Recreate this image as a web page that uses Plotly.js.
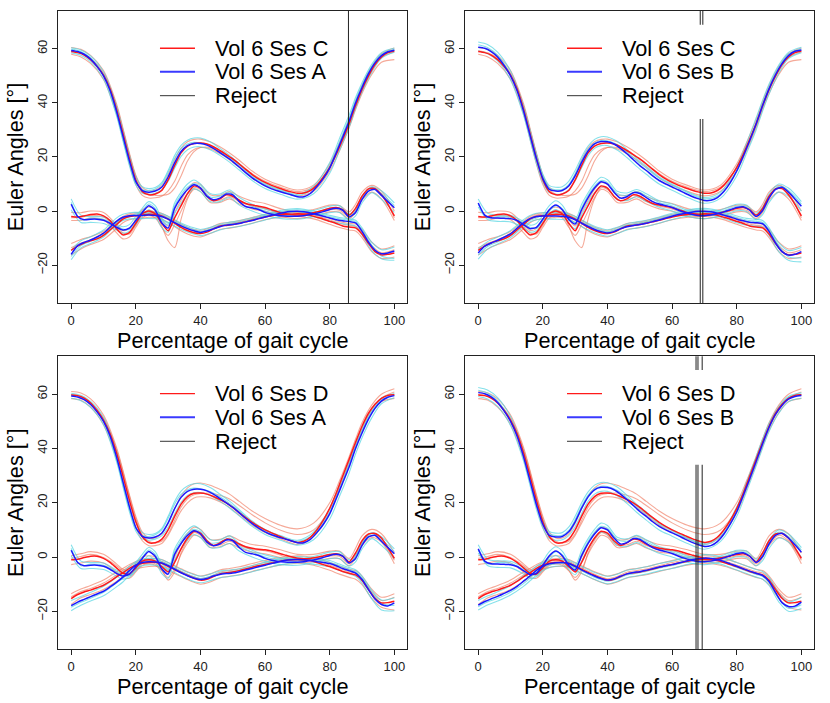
<!DOCTYPE html>
<html><head><meta charset="utf-8">
<script src="https://cdn.plot.ly/plotly-3.0.1.min.js"></script>
<style>html,body{margin:0;padding:0;background:#fff}#chart{width:830px;height:703px}</style>
</head><body><div id="chart"></div>
<script>
// ---------- DATA ----------
const X = [0,2,4,6,8,10,12,14,16,18,20,22,24,26,28,30,32,34,36,38,40,42,44,46,48,50,52,54,56,58,60,62,64,66,68,70,72,74,76,78,80,82,84,86,88,90,92,94,96,98,100];
const XT = [0,3,6,10,14,16,18,20,22,24,26,28,30,32,34,36,38,40,43,46,49,52,56,60,65,70,75,80,83,86,88,90,93,96,100];

// Session A (blue)
const sesA_flex = [59.4,59.0,58.0,56.2,53.5,50.0,44.7,37.0,27.8,18.6,10.9,7.6,7.0,7.4,8.8,12.6,17.8,22.0,24.2,25.0,25.0,24.4,23.2,21.6,20.0,18.3,16.3,14.2,12.3,10.7,9.3,8.2,7.4,6.7,6.0,5.3,5.3,6.5,9.0,12.0,15.9,21.5,27.3,33.2,40.0,45.7,50.8,54.8,57.5,58.9,59.5];
const sesA_abd = [2.5,-2.0,-3.2,-3.0,-3.0,-3.4,-4.5,-6.0,-7.0,-6.3,-3.5,-0.5,2.0,0.3,-4.3,-6.3,1.0,5.0,8.0,9.7,8.5,5.5,4.2,4.8,6.3,6.0,3.5,1.7,1.2,0.6,-0.5,-1.2,-1.6,-1.8,-1.9,-1.9,-1.7,-1.3,-0.8,-0.2,0.6,1.0,0.3,-2.2,-0.5,4.3,7.4,8.0,5.8,3.5,1.2];
const sesA_rot = [-16.0,-12.8,-11.6,-10.7,-9.6,-8.2,-6.0,-3.8,-2.3,-1.7,-1.6,-1.6,-1.5,-1.6,-2.0,-3.0,-4.3,-5.5,-6.5,-7.3,-7.9,-7.4,-6.6,-5.8,-5.2,-5.0,-4.6,-4.0,-3.5,-2.8,-2.2,-1.6,-1.0,-0.5,-0.2,-0.1,-0.3,-0.7,-1.3,-1.9,-2.6,-3.2,-3.6,-3.9,-4.4,-7.5,-11.5,-14.5,-15.8,-15.5,-14.8];
// Session A rotation as drawn against Session D (bottom-left panel)
const sesA_vsD_rot = [-17.9,-16.6,-15.6,-14.6,-13.6,-12.6,-11.0,-9.3,-7.4,-5.0,-3.0,-2.0,-1.7,-1.8,-2.2,-3.2,-4.5,-5.8,-6.9,-7.8,-8.3,-7.9,-7.0,-6.4,-6.1,-5.9,-5.4,-4.8,-4.2,-3.6,-3.0,-2.4,-1.8,-1.3,-1.0,-0.9,-1.0,-1.3,-1.7,-2.0,-2.4,-3.2,-4.2,-5.0,-5.9,-8.3,-12.0,-15.5,-17.5,-18.0,-16.9];
const sesA_flex_trials = [
 [60.4,59.6,57.4,51.5,39.0,30.0,20.8,12.8,9.0,8.3,8.7,10.5,15.0,20.5,24.3,26.2,27.0,27.0,25.6,23.2,20.6,17.5,13.3,10.2,7.8,6.2,9.2,18.0,26.8,35.5,42.0,47.5,54.3,58.6,60.3],
 [58.5,57.6,55.2,48.8,35.3,26.0,16.8,9.6,6.6,6.2,6.6,7.8,11.0,15.8,20.2,22.7,23.7,23.8,22.7,20.6,18.1,15.2,11.3,8.3,6.1,4.4,6.4,14.0,22.3,31.0,38.0,44.0,51.3,56.5,58.7],
 [59.9,59.0,56.6,50.3,36.2,26.7,17.8,10.4,7.9,7.6,8.2,10.0,14.3,19.5,23.1,24.8,25.4,25.2,24.2,22.2,19.8,17.0,12.8,9.8,7.5,5.8,8.3,16.8,25.5,34.3,41.0,46.6,53.5,58.0,59.8]];
const sesA_abd_trials = [
 [4.5,-1.5,-2.0,-2.2,-4.8,-5.8,-5.0,-2.0,1.0,3.5,2.0,-2.5,-4.5,3.0,7.0,10.0,11.5,10.0,6.5,6.3,7.8,5.0,2.5,0.8,-0.5,-0.8,0.2,1.8,2.0,-1.0,0.8,5.5,9.0,7.5,3.0],
 [0.5,-4.2,-4.2,-4.6,-7.0,-8.2,-7.5,-5.0,-2.0,0.5,-1.5,-6.0,-7.8,-1.0,3.0,6.3,8.3,7.2,3.5,3.5,5.0,2.2,0.0,-1.6,-2.8,-3.0,-2.1,-0.6,-0.5,-3.3,-1.8,3.0,6.8,4.3,-0.5],
 [3.2,-3.2,-2.6,-3.0,-5.4,-6.6,-6.8,-4.2,-0.2,2.6,1.0,-3.5,-5.0,2.0,6.0,8.8,10.2,9.3,5.2,5.5,7.0,4.0,1.8,0.0,-1.2,-1.5,-0.6,1.0,1.2,-1.8,0.2,5.2,8.6,6.5,2.0]];
const sesA_rot_trials = [
 [-14.5,-11.0,-9.5,-7.0,-2.6,-1.2,-0.6,-0.5,-0.5,-0.4,-0.5,-0.9,-1.9,-3.2,-4.4,-5.4,-6.2,-6.8,-6.0,-4.8,-4.1,-3.6,-2.5,-1.2,0.3,0.9,0.0,-1.6,-2.4,-2.9,-3.4,-6.2,-11.5,-14.3,-13.3],
 [-18.0,-13.6,-12.0,-9.6,-5.0,-3.5,-2.9,-2.8,-2.8,-2.7,-2.8,-3.2,-4.2,-5.5,-6.7,-7.7,-8.5,-9.1,-8.2,-7.0,-6.2,-5.7,-4.6,-3.3,-1.8,-1.2,-2.1,-3.7,-4.5,-5.0,-5.6,-8.8,-14.6,-17.6,-18.2],
 [-16.8,-12.8,-11.2,-8.8,-4.4,-2.8,-2.2,-1.0,-1.0,-0.9,-1.1,-1.5,-2.5,-3.8,-5.0,-6.0,-6.8,-7.5,-6.6,-5.3,-4.6,-4.1,-3.0,-1.7,-0.2,0.5,-0.5,-2.1,-2.9,-3.4,-4.0,-7.0,-12.6,-16.6,-17.5]];
const sesA_vsD_rot_trials = [
 [-16.0,-14.5,-13.0,-10.8,-7.5,-5.6,-3.4,-1.7,-0.8,-0.5,-0.6,-1.0,-2.0,-3.3,-4.6,-5.6,-6.5,-7.1,-6.3,-5.2,-4.8,-4.3,-3.1,-1.9,-0.5,0.2,-0.4,-1.3,-2.6,-3.9,-4.7,-7.0,-12.3,-15.8,-15.0],
 [-19.8,-17.8,-16.2,-14.3,-11.0,-9.2,-6.7,-4.4,-3.2,-2.9,-3.0,-3.4,-4.4,-5.7,-7.0,-8.1,-9.0,-9.5,-8.7,-7.6,-7.2,-6.6,-5.4,-4.2,-2.8,-2.1,-2.7,-3.6,-4.9,-6.2,-7.1,-9.6,-15.4,-19.5,-19.8],
 [-18.5,-16.7,-15.2,-13.0,-9.6,-7.8,-5.5,-2.5,-1.4,-1.1,-1.2,-1.7,-2.7,-4.0,-5.3,-6.4,-7.3,-7.9,-7.1,-5.9,-5.5,-4.9,-3.7,-2.5,-1.1,-0.4,-1.0,-1.9,-3.2,-4.5,-5.4,-7.8,-13.2,-17.0,-17.8]];

// Session B (blue) as drawn against Session C (top-right panel)
const sesB_flex = [60.6,60.2,59.0,57.0,53.9,50.0,44.6,37.1,28.2,19.3,12.0,8.0,7.4,7.6,9.3,13.0,18.0,22.2,24.8,25.7,25.6,24.8,23.2,21.2,19.0,16.8,15.0,13.0,11.3,10.0,8.9,7.8,6.6,5.5,4.6,3.9,4.0,5.0,7.2,10.5,14.8,20.2,26.0,32.2,39.0,45.2,50.4,54.5,57.5,59.1,59.6];
// Session B flexion as drawn against Session D (bottom-right panel)
const sesB_vsD_flex = [60.6,60.2,59.0,57.0,53.9,50.0,44.6,37.1,28.2,19.3,12.0,8.0,7.4,7.6,9.3,13.0,18.0,22.2,24.8,25.7,25.6,24.8,23.2,21.2,19.0,16.8,15.0,13.0,11.3,10.0,8.9,7.8,6.6,5.5,4.6,3.9,4.2,5.7,8.4,12.2,16.7,22.6,28.8,35.2,41.8,47.8,52.6,55.9,58.2,59.2,59.5];
const sesB_abd = [3.0,-1.5,-2.5,-2.6,-2.7,-2.8,-3.5,-5.0,-6.5,-6.0,-3.0,0.5,2.2,0.5,-3.0,-4.8,0.5,5.0,8.5,10.8,10.0,7.0,4.8,5.3,6.8,6.5,5.0,3.5,2.6,2.0,1.3,0.3,-0.5,-1.2,-1.6,-1.7,-1.5,-1.0,-0.3,0.5,1.3,1.6,0.3,-2.0,0.2,4.8,8.0,8.8,7.0,4.5,1.8];
const sesB_rot = [-15.5,-13.0,-11.8,-10.8,-9.7,-8.4,-6.4,-4.4,-2.8,-2.0,-1.8,-1.8,-1.8,-1.9,-2.3,-3.2,-4.5,-5.7,-6.8,-7.6,-8.1,-7.6,-6.6,-5.8,-5.3,-5.0,-4.5,-3.9,-3.3,-2.6,-1.9,-1.3,-0.8,-0.4,-0.1,-0.1,-0.3,-0.8,-1.5,-2.2,-3.0,-3.6,-4.1,-4.3,-4.7,-7.5,-11.8,-15.0,-16.3,-16.0,-15.0];
// Session B rotation as drawn against Session D (bottom-right panel)
const sesB_vsD_rot = [-17.7,-16.4,-15.4,-14.5,-13.4,-12.3,-10.8,-8.9,-7.0,-4.9,-3.4,-2.5,-2.1,-2.0,-2.4,-3.4,-4.7,-5.9,-7.0,-7.9,-8.5,-8.1,-7.1,-6.2,-5.7,-5.4,-4.9,-4.3,-3.7,-3.2,-2.8,-2.2,-1.6,-1.0,-0.6,-0.4,-0.5,-0.9,-1.6,-2.5,-3.4,-4.3,-5.2,-6.0,-6.8,-9.0,-13.0,-16.8,-18.2,-18.1,-16.6];
const sesB_flex_trials = [
 [62.5,61.5,58.8,51.8,39.0,30.2,21.2,13.6,9.4,8.8,9.0,11.0,15.0,20.0,24.0,26.5,27.5,27.4,25.8,22.8,19.5,16.6,12.6,10.0,7.0,5.0,7.0,16.5,25.0,34.5,41.0,47.0,54.0,58.7,60.6],
 [59.2,58.2,55.5,48.5,35.5,26.5,17.6,10.6,6.8,6.2,6.4,7.9,11.2,16.0,20.5,23.2,24.2,24.2,22.6,19.8,16.5,13.6,10.0,7.7,4.9,2.9,4.8,13.0,21.3,30.0,37.0,43.3,51.0,56.4,58.6],
 [61.5,60.4,57.6,50.4,37.8,29.0,20.2,12.8,8.6,7.9,8.0,9.8,13.8,18.8,22.8,25.2,26.1,26.0,24.6,21.9,18.7,15.9,12.2,9.6,6.7,4.5,6.2,15.0,23.5,32.8,39.6,45.8,53.2,58.0,60.0]];
const sesB_vsD_flex_trials = [
 [62.5,61.5,58.8,51.8,39.0,30.2,21.2,13.6,9.4,8.8,9.0,11.0,15.0,20.0,24.0,26.5,27.5,27.4,25.8,22.8,19.5,16.6,12.6,10.0,7.0,5.0,8.3,18.5,27.5,37.0,43.5,49.3,55.5,59.2,60.5],
 [59.2,58.2,55.5,48.5,35.5,26.5,17.6,10.6,6.8,6.2,6.4,7.9,11.2,16.0,20.5,23.2,24.2,24.2,22.6,19.8,16.5,13.6,10.0,7.7,4.9,2.9,5.8,15.0,24.0,33.5,40.2,46.3,53.0,57.2,58.5],
 [61.5,60.4,57.6,50.4,37.8,29.0,20.2,12.8,8.6,7.9,8.0,9.8,13.8,18.8,22.8,25.2,26.1,26.0,24.6,21.9,18.7,15.9,12.2,9.6,6.7,4.5,7.6,17.4,26.4,36.0,42.6,48.5,55.0,58.8,60.0]];
const sesB_abd_trials = [
 [4.5,-0.8,-1.4,-1.6,-3.8,-5.2,-4.6,-1.5,2.0,3.8,2.2,-1.5,-3.0,2.5,6.8,10.2,12.5,11.6,7.3,6.7,8.0,6.4,3.8,2.6,0.2,-0.6,0.4,2.5,2.2,-0.8,1.5,6.3,10.0,8.5,3.5],
 [1.5,-3.2,-3.8,-4.0,-6.2,-7.8,-7.3,-4.5,-1.0,0.6,-1.2,-4.5,-6.5,-1.5,3.2,6.8,9.2,8.4,4.3,3.9,5.3,3.6,1.4,0.0,-2.0,-2.8,-1.8,0.1,-0.2,-3.2,-1.3,3.2,7.0,5.5,0.0],
 [2.5,-2.6,-2.0,-2.3,-4.6,-6.0,-6.4,-3.6,0.0,2.0,0.9,-2.4,-4.2,1.2,5.8,9.2,11.3,10.6,6.5,5.8,7.2,5.6,3.2,1.9,-0.4,-1.2,-0.2,1.8,1.6,-1.5,0.8,5.5,9.2,7.6,2.6]];
const sesB_rot_trials = [
 [-14.0,-11.2,-9.6,-7.2,-3.2,-1.6,-0.8,-0.6,-0.6,-0.6,-0.7,-1.1,-2.0,-3.3,-4.5,-5.6,-6.4,-6.9,-6.0,-4.7,-4.0,-3.4,-2.2,-0.8,0.5,1.0,0.0,-1.8,-2.7,-3.1,-3.5,-6.2,-11.8,-14.6,-13.5],
 [-17.8,-14.0,-12.2,-9.8,-5.6,-4.0,-3.2,-3.0,-3.0,-3.0,-3.1,-3.5,-4.4,-5.7,-6.9,-8.0,-8.8,-9.3,-8.3,-7.0,-6.3,-5.7,-4.5,-3.1,-1.8,-1.3,-2.3,-4.3,-5.2,-5.6,-6.0,-9.0,-15.0,-18.2,-18.8],
 [-16.3,-13.0,-11.4,-8.9,-4.9,-3.4,-2.6,-1.4,-1.2,-1.1,-1.3,-1.7,-2.7,-4.0,-5.2,-6.3,-7.1,-7.6,-6.6,-5.3,-4.6,-4.0,-2.8,-1.4,0.0,0.5,-0.5,-2.4,-3.3,-3.8,-4.2,-7.0,-12.8,-16.9,-17.3]];
const sesB_vsD_rot_trials = [
 [-16.0,-14.3,-12.8,-10.5,-7.0,-5.3,-3.4,-2.1,-1.3,-0.9,-0.8,-1.2,-2.2,-3.5,-4.6,-5.7,-6.5,-7.1,-6.3,-4.9,-4.3,-3.6,-2.4,-1.5,0.0,0.9,0.2,-2.0,-3.3,-4.6,-5.3,-7.5,-13.3,-16.5,-14.8],
 [-19.5,-17.6,-16.2,-14.0,-10.8,-8.8,-6.6,-5.0,-3.9,-3.4,-3.3,-3.7,-4.7,-6.0,-7.2,-8.3,-9.2,-9.9,-9.0,-7.6,-7.0,-6.3,-5.1,-4.2,-2.7,-1.8,-2.6,-4.8,-6.1,-7.4,-8.2,-10.5,-16.5,-20.0,-19.0],
 [-18.3,-16.5,-15.2,-13.0,-9.8,-7.8,-5.6,-3.9,-2.9,-2.5,-2.4,-2.8,-3.8,-5.1,-6.3,-7.4,-8.3,-8.9,-8.0,-6.6,-6.0,-5.3,-4.1,-3.1,-1.7,-0.8,-1.6,-3.8,-5.1,-6.4,-7.2,-9.4,-15.3,-18.9,-17.6]];

// Session C (red)
const sesC_flex = [59.0,58.6,57.7,56.0,53.5,50.3,45.2,37.8,28.8,19.5,11.5,7.2,6.0,6.3,7.6,11.5,16.8,21.5,24.0,25.0,25.2,24.8,23.8,22.4,20.9,19.3,17.4,15.4,13.5,11.9,10.6,9.5,8.6,7.8,7.1,6.6,6.7,7.6,9.5,12.5,16.2,21.0,26.5,32.3,39.0,45.0,50.0,54.2,57.0,58.6,59.2];
const sesC_abd = [-2.0,-2.2,-1.8,-1.3,-1.1,-1.8,-3.5,-6.5,-8.8,-8.0,-4.5,-1.0,0.0,-1.0,-4.5,-7.3,-2.5,2.0,6.5,9.3,8.5,5.5,3.8,4.5,6.0,5.5,4.0,2.8,2.2,1.8,1.3,0.5,-0.3,-0.9,-1.3,-1.5,-1.3,-0.9,-0.3,0.3,1.0,1.3,0.5,-1.5,1.0,5.5,8.2,8.3,6.0,2.5,-1.8];
const sesC_rot = [-14.5,-13.0,-11.8,-11.0,-10.3,-9.0,-7.0,-5.0,-3.0,-2.0,-1.7,-1.5,-1.2,-1.3,-1.8,-3.0,-4.5,-6.0,-7.2,-8.0,-8.3,-7.8,-6.6,-5.6,-5.3,-5.0,-4.5,-4.0,-3.4,-2.8,-2.2,-1.7,-1.4,-1.2,-1.2,-1.0,-1.1,-1.6,-2.3,-3.0,-3.8,-4.6,-5.5,-5.9,-6.2,-8.5,-12.0,-15.0,-16.2,-16.0,-15.5];
const sesC_flex_trials = [
 [60.5,59.8,57.6,52.0,39.8,30.8,21.5,13.3,8.8,7.5,7.8,9.3,13.5,19.0,23.3,25.6,26.5,26.6,25.6,23.8,21.5,18.8,14.8,11.8,9.4,7.8,9.6,17.5,25.2,33.8,40.5,46.4,53.5,58.2,60.3],
 [58.0,57.0,54.6,48.7,36.0,26.8,17.5,9.8,5.8,4.8,4.9,5.5,7.5,11.0,16.5,20.8,22.8,23.5,23.0,21.3,19.0,16.2,12.2,9.5,7.2,5.6,7.3,14.8,22.2,30.8,37.5,43.5,50.5,55.0,56.0],
 [59.3,58.5,56.5,51.0,39.0,30.2,21.0,12.8,8.0,6.2,5.8,5.8,6.2,8.5,13.0,18.5,22.0,23.5,23.5,22.0,20.0,17.5,13.8,11.0,8.7,7.2,8.9,16.0,23.2,31.5,38.3,44.5,51.8,56.8,58.8]];
const sesC_abd_trials = [
 [-0.5,-0.6,0.0,-0.5,-5.0,-7.2,-6.5,-3.0,0.5,1.5,0.5,-3.0,-5.5,-0.5,4.0,8.0,10.5,9.8,6.0,5.8,7.2,5.5,3.7,2.8,0.8,-0.3,0.6,2.2,2.0,-0.3,2.5,7.0,9.5,7.5,0.0],
 [-3.5,-3.4,-2.6,-3.2,-8.0,-10.3,-9.6,-6.0,-2.5,-1.5,-2.5,-6.0,-9.0,-5.0,0.0,5.0,8.0,7.2,3.2,3.2,4.5,2.6,0.8,-0.1,-2.0,-2.8,-1.9,-0.3,-0.4,-2.8,-0.5,4.0,7.0,4.5,-3.5],
 [-2.5,-2.3,-1.6,-2.2,-6.0,-8.0,-8.5,-5.2,-1.2,0.3,-0.6,-5.5,-11.0,-13.5,-3.0,4.5,8.6,8.0,4.2,4.0,5.4,3.5,1.8,0.8,-1.2,-2.0,-1.0,0.5,0.3,-2.0,0.0,5.0,8.8,6.5,-2.5]];
const sesC_rot_trials = [
 [-12.0,-10.5,-9.5,-7.5,-3.8,-2.0,-1.0,-0.6,-0.4,-0.2,-0.3,-0.8,-2.0,-3.4,-4.8,-6.0,-6.8,-7.1,-6.2,-4.6,-4.2,-3.5,-2.4,-1.2,-0.3,0.0,-0.9,-2.7,-3.9,-4.6,-4.8,-6.8,-11.5,-14.0,-12.8],
 [-16.3,-14.0,-12.4,-10.5,-6.5,-4.3,-3.2,-2.8,-2.6,-2.3,-2.4,-2.9,-4.2,-5.7,-7.3,-8.5,-9.3,-9.6,-8.3,-6.8,-6.3,-5.6,-4.5,-3.2,-2.3,-2.0,-2.9,-4.9,-6.1,-7.0,-7.4,-9.8,-15.0,-17.5,-17.0],
 [-13.6,-11.8,-10.6,-8.2,-4.4,-2.6,-1.5,-1.1,-0.9,-0.6,-0.7,-1.2,-2.6,-4.0,-5.4,-6.6,-7.4,-7.8,-6.8,-5.2,-4.7,-4.0,-2.9,-1.7,-0.8,-0.5,-1.4,-3.3,-4.5,-5.3,-5.6,-7.8,-12.8,-15.4,-14.3]];

// Session D (red)
const sesD_flex = [59.7,59.5,58.6,56.8,54.0,50.5,45.5,38.5,30.0,21.0,13.0,7.5,5.3,5.3,6.5,10.0,15.0,19.5,22.3,23.5,23.6,23.2,22.3,21.2,20.0,18.3,16.4,14.5,12.8,11.3,10.0,8.9,7.9,6.9,6.0,5.4,5.8,7.3,10.0,13.5,18.0,23.5,29.8,36.0,42.3,48.2,53.0,56.3,58.5,59.6,59.8];
const sesD_abd = [-1.0,-0.8,-0.2,0.3,0.3,-0.5,-2.0,-4.0,-6.0,-6.3,-4.0,-1.5,-1.0,-1.5,-3.5,-5.5,-2.0,3.0,7.0,9.5,8.8,6.0,4.3,5.2,6.6,6.2,4.8,3.8,3.2,2.9,2.7,2.2,1.5,0.8,0.1,-0.4,-0.6,-0.5,-0.1,0.4,0.9,1.2,0.3,-1.8,1.5,6.0,8.5,8.7,7.0,3.5,-0.5];
const sesD_rot = [-15.3,-13.8,-12.9,-12.2,-11.3,-10.4,-9.0,-7.3,-5.8,-4.2,-3.0,-2.3,-2.0,-1.9,-2.3,-3.4,-4.6,-5.7,-6.8,-7.8,-8.5,-8.2,-7.2,-6.2,-5.8,-5.5,-5.0,-4.4,-3.8,-3.2,-2.7,-2.2,-1.7,-1.3,-1.0,-0.9,-1.0,-1.3,-2.0,-2.8,-3.5,-4.4,-5.3,-6.0,-6.6,-8.6,-12.0,-15.2,-16.9,-16.8,-16.3];
const sesD_flex_trials = [
 [61.0,60.5,58.3,52.3,40.5,32.0,23.0,15.0,9.2,7.0,7.0,8.5,12.5,17.8,22.5,25.5,27.0,27.3,26.5,25.0,23.2,20.5,17.0,14.2,11.6,10.4,12.5,20.0,28.0,37.0,43.5,49.5,56.0,60.0,62.0],
 [58.4,57.8,55.3,48.8,36.5,28.0,19.0,11.0,6.0,4.2,4.2,5.0,8.0,12.5,17.0,20.0,21.8,22.2,21.8,20.4,18.3,15.4,11.8,9.0,6.6,4.6,7.5,16.3,24.8,34.2,40.6,46.6,53.2,57.3,58.5],
 [59.9,59.3,57.0,51.2,39.8,31.5,22.5,14.2,8.2,5.8,5.2,5.8,8.6,13.5,18.4,21.5,23.0,23.4,23.6,22.8,21.4,19.0,15.6,12.6,9.8,8.3,10.0,17.6,25.8,35.0,41.5,47.6,54.2,58.6,60.8]];
const sesD_abd_trials = [
 [0.5,1.2,2.0,1.0,-2.5,-4.5,-5.0,-2.5,0.0,0.5,0.0,-2.0,-4.0,0.0,5.0,8.8,11.0,10.2,6.5,6.5,7.8,6.2,4.6,4.0,2.6,1.0,1.0,2.2,2.2,-0.5,3.2,7.8,10.2,8.6,1.5],
 [-2.8,-2.2,-1.5,-2.2,-5.5,-7.5,-7.8,-5.5,-3.0,-2.5,-3.0,-5.0,-7.5,-4.5,1.0,5.2,8.0,7.3,3.5,3.8,5.0,3.3,1.8,1.2,-0.3,-1.8,-1.8,-0.5,-0.6,-3.2,-0.2,4.3,7.2,5.5,-2.5],
 [-0.5,0.2,1.0,-0.2,-3.2,-5.2,-7.0,-5.0,-2.2,-1.8,-2.5,-4.8,-8.5,-5.5,1.5,6.2,9.0,8.0,4.3,4.5,5.8,4.3,2.8,2.3,0.6,-1.2,-1.0,0.4,0.3,-2.5,0.6,5.0,8.0,6.0,-1.2]];
const sesD_rot_trials = [
 [-13.5,-11.8,-10.5,-8.5,-5.5,-4.2,-2.8,-1.6,-0.9,-0.6,-0.5,-0.9,-2.0,-3.2,-4.3,-5.4,-6.3,-7.0,-6.2,-4.8,-4.2,-3.6,-2.4,-1.3,-0.1,0.5,-0.2,-2.0,-3.3,-4.5,-5.0,-7.0,-11.8,-14.8,-13.5],
 [-17.5,-15.0,-13.8,-12.0,-9.0,-7.4,-5.8,-4.5,-3.8,-3.5,-3.4,-3.8,-4.9,-6.1,-7.2,-8.3,-9.3,-10.0,-9.2,-7.7,-7.1,-6.5,-5.3,-4.1,-2.9,-2.3,-3.0,-4.9,-6.3,-7.5,-8.2,-10.2,-15.2,-18.5,-19.5],
 [-14.6,-12.7,-11.6,-9.6,-6.6,-5.0,-3.5,-2.2,-1.5,-1.2,-1.2,-1.6,-2.8,-4.0,-5.2,-6.3,-7.3,-8.0,-7.2,-5.6,-5.0,-4.4,-3.2,-2.0,-0.9,-0.4,-1.1,-3.0,-4.2,-5.4,-5.9,-7.9,-12.8,-16.0,-14.8]];

// Rejected cycles (percentage of gait cycle), per panel
const rejects1 = [85.8];
const rejects2 = [68.7, 69.5];
const rejects3 = [];
const rejects4 = [67.4, 68.0, 69.3];

const xTicks = [0, 20, 40, 60, 80, 100];
const yTicks = [-20, 0, 20, 40, 60];
const xTitle = 'Percentage of gait cycle';
const yTitle = 'Euler Angles [°]';
const rejectLabel = 'Reject';

// ---------- BUILD ----------
const sessions = {
  A:  {label: 'Vol 6 Ses A', mean: [sesA_flex, sesA_abd, sesA_rot], trials: [sesA_flex_trials, sesA_abd_trials, sesA_rot_trials]},
  AD: {label: 'Vol 6 Ses A', mean: [sesA_flex, sesA_abd, sesA_vsD_rot], trials: [sesA_flex_trials, sesA_abd_trials, sesA_vsD_rot_trials]},
  B:  {label: 'Vol 6 Ses B', mean: [sesB_flex, sesB_abd, sesB_rot], trials: [sesB_flex_trials, sesB_abd_trials, sesB_rot_trials]},
  BD: {label: 'Vol 6 Ses B', mean: [sesB_vsD_flex, sesB_abd, sesB_vsD_rot], trials: [sesB_vsD_flex_trials, sesB_abd_trials, sesB_vsD_rot_trials]},
  C:  {label: 'Vol 6 Ses C', mean: [sesC_flex, sesC_abd, sesC_rot], trials: [sesC_flex_trials, sesC_abd_trials, sesC_rot_trials]},
  D:  {label: 'Vol 6 Ses D', mean: [sesD_flex, sesD_abd, sesD_rot], trials: [sesD_flex_trials, sesD_abd_trials, sesD_rot_trials]}
};
const panels = [
  {red: 'C', blue: 'A', rejects: rejects1},
  {red: 'C', blue: 'B', rejects: rejects2},
  {red: 'D', blue: 'AD', rejects: rejects3},
  {red: 'D', blue: 'BD', rejects: rejects4}
];
const domX = [[0.0702, 0.4907], [0.5606, 0.9811], [0.0702, 0.4907], [0.5606, 0.9811]];
const domY = [[0.5690, 0.9844], [0.5690, 0.9844], [0.0764, 0.4932], [0.0764, 0.4932]];

const FONT = 'Liberation Sans, Arial, Helvetica, sans-serif';
const RED_TRIAL = 'rgba(238,112,84,0.6)';
const CYAN_TRIAL = 'rgba(88,214,226,0.72)';
const RED = '#ff1a1a';
const BLUE = '#1a1aff';
const FRAME = '#222';
const BIG = 21.7;

const traces = [];
const shapes = [];
const annotations = [];
const layout = {
  width: 830, height: 703,
  margin: {l: 0, r: 0, t: 0, b: 0},
  paper_bgcolor: '#fff', plot_bgcolor: '#fff',
  showlegend: false,
  font: {family: FONT, color: '#000'}
};

panels.forEach((p, i) => {
  const n = i === 0 ? '' : String(i + 1);
  const xa = 'x' + n, ya = 'y' + n;
  const red = sessions[p.red], blue = sessions[p.blue];
  const addTrials = (ses, color) => ses.trials.forEach(group => group.forEach(t => traces.push({
    type: 'scatter', mode: 'lines', x: XT, y: t, xaxis: xa, yaxis: ya,
    line: {color: color, width: 1.1, shape: 'spline', smoothing: 0.9},
    hoverinfo: 'skip', showlegend: false
  })));
  addTrials(red, RED_TRIAL);
  addTrials(blue, CYAN_TRIAL);
  const addMeans = (ses, color) => ses.mean.forEach(m => traces.push({
    type: 'scatter', mode: 'lines', x: X, y: m, xaxis: xa, yaxis: ya, name: ses.label,
    line: {color: color, width: 1.5, shape: 'spline', smoothing: 0.6},
    hoverinfo: 'skip', showlegend: false
  }));
  addMeans(red, RED);
  addMeans(blue, BLUE);

  layout['xaxis' + n] = {
    domain: domX[i], anchor: ya, range: [-4, 104], tickvals: xTicks,
    ticks: 'outside', ticklen: 5, tickcolor: FRAME, showline: true, mirror: true,
    linecolor: FRAME, linewidth: 1, showgrid: false, zeroline: false,
    tickfont: {family: FONT, size: 13, color: '#222'},
    title: {text: xTitle, font: {family: FONT, size: BIG, color: '#000'}, standoff: 3},
    automargin: false, fixedrange: true
  };
  layout['yaxis' + n] = {
    domain: domY[i], anchor: xa, range: [-34, 74], tickvals: yTicks, tickangle: -90,
    ticks: 'outside', ticklen: 5, tickcolor: FRAME, showline: true, mirror: true,
    linecolor: FRAME, linewidth: 1, showgrid: false, zeroline: false,
    tickfont: {family: FONT, size: 13, color: '#222'},
    title: {text: yTitle, font: {family: FONT, size: BIG, color: '#000'}, standoff: 5},
    automargin: false, fixedrange: true
  };

  p.rejects.forEach(r => shapes.push({
    type: 'line', xref: xa, yref: ya + ' domain', x0: r, x1: r, y0: 0, y1: 1,
    line: {color: '#222', width: 1}, layer: 'above'
  }));
  // legend background (covers what lies under the legend)
  shapes.push({type: 'rect', xref: xa + ' domain', yref: ya + ' domain', x0: 0.25, x1: 0.76, y0: 0.63, y1: 0.953,
    fillcolor: '#fff', line: {width: 0}, layer: 'above'});
  const rows = [[red.label, RED, 1.3], [blue.label, '#3a3aff', 2], [rejectLabel, '#333', 1]];
  const rowY = [0.8723, 0.7921, 0.7099];
  rows.forEach((r, k) => {
    shapes.push({type: 'line', xref: xa + ' domain', yref: ya + ' domain', x0: 0.2914, x1: 0.3917, y0: rowY[k], y1: rowY[k],
      line: {color: r[1], width: r[2]}, layer: 'above'});
    annotations.push({xref: xa + ' domain', yref: ya + ' domain', x: 0.4433, y: rowY[k], xanchor: 'left', yanchor: 'middle',
      text: r[0], showarrow: false, font: {family: FONT, size: BIG, color: '#000'}});
  });
});
layout.shapes = shapes;
layout.annotations = annotations;

Plotly.newPlot('chart', traces, layout, {staticPlot: true, displayModeBar: false});
</script>
</body></html>
